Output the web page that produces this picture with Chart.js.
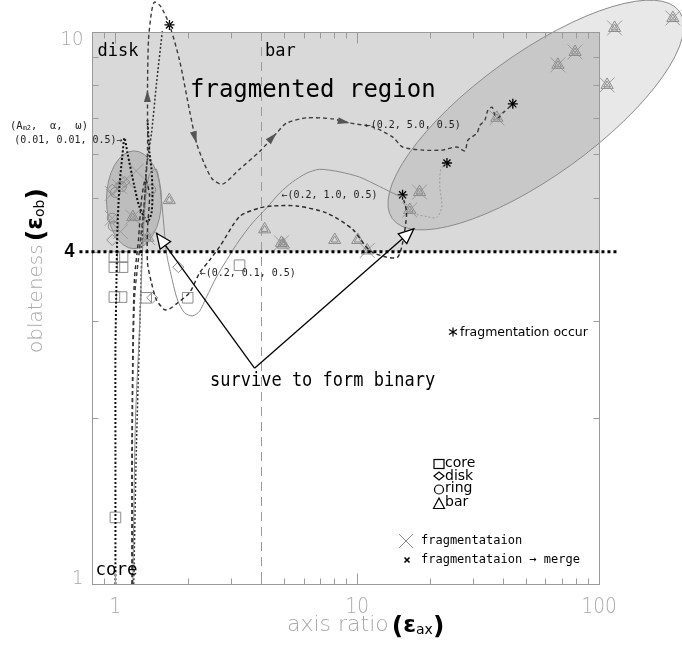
<!DOCTYPE html>
<html>
<head>
<meta charset="utf-8">
<script src="https://cdn.jsdelivr.net/npm/chart.js@4"></script>
<style>
  html, body { margin: 0; padding: 0; background: #fff; }
  canvas { display: block; }
</style>
</head>
<body>
<canvas id="chart" width="682" height="655"></canvas>
<script>
// axes: the framed box, and the whole canvas seen through the scales
const xRange = [0.8, 100];
const yRange = [1, 10];
const xView = [0.3331, 220.4];
const yView = [0.7437, 11.428];
const xTickLabels = [1, 10, 100];
const yTickLabels = [1, 10];
const xMinorTicks = [0.9, 2, 3, 4, 5, 6, 7, 8, 9, 20, 30, 40, 50, 60, 70, 80, 90];
const yMinorTicks = [2, 3, 4, 5, 6, 7, 8, 9];

const fragLevel = 4;          // oblateness limit of the fragmented region
const barLimit = 4;           // axis ratio between disk and bar
const fragLineSpan = [0.71, 119];

// evolution tracks, [axis ratio, oblateness]
const track5p0 = [[1.176, 1.0], [1.176, 1.98], [1.198, 3.27], [1.257, 4.03], [1.318, 4.96], [1.357, 6.11],
  [1.357, 7.85], [1.370, 9.67], [1.410, 10.87], [1.450, 11.33], [1.536, 11.14], [1.673, 10.30], [1.841, 8.89],
  [2.025, 7.21], [2.165, 6.29], [2.336, 5.76], [2.521, 5.41], [2.773, 5.30], [3.26, 5.64], [3.94, 6.07],
  [4.64, 6.56], [5.11, 6.84], [6.18, 6.99], [7.92, 6.96], [9.31, 6.84], [11.59, 6.73], [14.03, 6.45],
  [15.41, 6.19], [18.67, 6.11], [22.38, 6.11], [25.8, 6.19], [27.9, 6.09], [28.7, 6.37], [31.3, 6.56],
  [32.1, 6.77], [33.7, 6.92], [34.7, 7.21], [36.1, 7.31], [37.1, 7.07], [38.2, 6.99], [40.0, 7.13], [44.0, 7.41]];
const track5p0Arrows = [6, 14, 20, 24];

const track1p0 = [[1.18, 1.0], [1.21, 1.98], [1.257, 2.88], [1.294, 4.03], [1.331, 4.96], [1.383, 5.52],
  [1.479, 5.64], [1.550, 4.96], [1.626, 3.98], [1.706, 3.60], [1.806, 3.27], [1.931, 3.10], [2.084, 3.06],
  [2.228, 3.12], [2.380, 3.31], [2.619, 3.60], [2.881, 3.86], [3.26, 4.20], [3.69, 4.51], [4.22, 4.80],
  [4.78, 5.11], [5.40, 5.35], [6.18, 5.55], [6.99, 5.64], [8.46, 5.58], [10.23, 5.46], [12.36, 5.25],
  [14.57, 5.07], [15.41, 5.04]];
const track1p0Tail = [[15.41, 5.04], [16.01, 4.86], [16.97, 4.70], [19.4, 4.63], [21.3, 4.61], [22.38, 4.82],
  [21.95, 5.25], [22.17, 5.64], [23.46, 5.79]];

const track0p1 = [[1.17, 1.0], [1.17, 1.75], [1.18, 2.65], [1.198, 3.56], [1.245, 4.20], [1.281, 4.96],
  [1.331, 5.41], [1.383, 5.07], [1.357, 4.39], [1.357, 3.82], [1.410, 3.51], [1.479, 3.27], [1.596, 3.14],
  [1.673, 3.15], [1.806, 3.23], [2.025, 3.37], [2.228, 3.66], [2.450, 3.86], [2.695, 4.08], [3.26, 4.63],
  [3.94, 4.80], [4.47, 4.84], [5.62, 4.84], [7.48, 4.70], [9.58, 4.39], [11.25, 4.02], [13.22, 3.91],
  [14.70, 3.91], [15.41, 4.15], [16.01, 4.70], [15.58, 4.96]];

const track0p01 = [[1.0, 1.0], [1.0, 1.75], [1.0, 2.65], [1.01, 3.56], [1.019, 4.39], [1.039, 5.25],
  [1.069, 5.99], [1.090, 6.43], [1.121, 6.04], [1.198, 5.25], [1.257, 4.82], [1.357, 4.53], [1.410, 4.70],
  [1.423, 5.11], [1.410, 5.64], [1.383, 6.04], [1.357, 6.92]];

const trackOther = [[1.19, 1.0], [1.22, 1.75], [1.27, 3.27], [1.294, 4.32], [1.318, 4.82], [1.344, 5.69],
  [1.410, 6.56], [1.479, 8.08], [1.565, 10.08]];

// states
const coreStates = [[1.0, 1.32], [0.99, 3.91], [1.07, 3.91], [0.99, 3.75], [1.07, 3.75], [0.99, 3.31],
  [1.06, 3.31], [1.34, 3.30], [1.99, 3.30], [3.26, 3.78]];
const diskStates = [[1.42, 3.30], [1.82, 3.75], [0.97, 4.20], [0.97, 5.18], [1.04, 5.27], [1.09, 5.35]];
const ringStates = [[1.40, 5.18], [0.97, 4.60], [1.0, 5.12], [1.06, 5.25], [0.98, 4.45]];
const barStates = [[1.67, 4.96], [1.18, 4.62], [1.36, 4.24], [4.14, 4.39], [4.86, 4.15], [4.95, 4.12],
  [8.07, 4.20], [10.05, 4.20], [11.0, 4.02], [16.5, 4.76], [18.1, 5.13], [37.8, 6.99], [67.6, 8.72],
  [79.6, 9.20], [116, 10.17], [108, 8.02], [202, 10.6]];
const fragStates = [[0.97, 5.10], [1.04, 5.25], [1.10, 5.40], [0.97, 4.60], [1.18, 4.62], [1.36, 4.24],
  [1.22, 5.60], [1.05, 4.35], [4.86, 4.15], [11.0, 4.02], [16.5, 4.76], [18.1, 5.13], [37.8, 6.99],
  [67.6, 8.72], [79.6, 9.20], [116, 10.17], [108, 8.02], [202, 10.6]];
const fragEvents = [[1.673, 10.3], [15.4, 5.07], [23.5, 5.79], [44.0, 7.41]];

// cluster outlines and notes
const leftCluster = { x: [0.918, 1.55], y: [4.05, 6.09] };
const rightCluster = { from: [13.97, 4.59], to: [215, 10.9], ratio: 0.345 };
const surviveFrom = [3.76, 2.46];
const surviveTo = [[1.479, 4.32], [17.14, 4.40]];
const trackNotes = [
  { text: '\u2190(0.2, 5.0, 0.5)', at: [10.74, 6.77], align: 'left' },
  { text: '\u2190(0.2, 1.0, 0.5)', at: [4.86, 5.07], align: 'left' },
  { text: '\u2190(0.2, 0.1, 0.5)', at: [2.23, 3.66], align: 'left' },
  { text: '(0.01, 0.01, 0.5)\u2192', at: [1.069, 6.37], align: 'right' }
];

const toPoints = list => list.map(p => ({ x: p[0], y: p[1] }));

function trackSet(list, color, dash, width) {
  return {
    data: toPoints(list), showLine: true, borderColor: color, borderWidth: width,
    borderDash: dash, borderCapStyle: 'butt', pointRadius: 0, pointHoverRadius: 0,
    tension: 0.25, fill: false, clip: false
  };
}

function markSet(list, style, radius, color, width) {
  return {
    data: toPoints(list), showLine: false, pointStyle: style, pointRadius: radius,
    pointHoverRadius: radius, borderColor: color, pointBorderColor: color,
    backgroundColor: 'rgba(0,0,0,0)', pointBackgroundColor: 'rgba(0,0,0,0)',
    pointBorderWidth: width || 1, borderWidth: width || 1, clip: false
  };
}

function text(ctx, str, x, y, font, color, align, sx, base) {
  ctx.save();
  ctx.font = font;
  ctx.fillStyle = color;
  ctx.textAlign = align || 'left';
  ctx.textBaseline = base || 'middle';
  ctx.translate(x, y);
  ctx.scale(sx || 1, 1);
  ctx.fillText(str, 0, 0);
  ctx.restore();
}

function arrowHead(ctx, tx, ty, ang, len, half, fill, stroke) {
  ctx.beginPath();
  ctx.moveTo(tx, ty);
  ctx.lineTo(tx - len * Math.cos(ang) + half * Math.sin(ang), ty - len * Math.sin(ang) - half * Math.cos(ang));
  ctx.lineTo(tx - len * Math.cos(ang) - half * Math.sin(ang), ty - len * Math.sin(ang) + half * Math.cos(ang));
  ctx.closePath();
  ctx.fillStyle = fill;
  ctx.fill();
  if (stroke) { ctx.strokeStyle = stroke; ctx.stroke(); }
}

const backdrop = {
  id: 'backdrop',
  beforeDatasetsDraw(chart) {
    const { ctx, scales: { x, y } } = chart;
    const X = v => x.getPixelForValue(v), Y = v => y.getPixelForValue(v);
    ctx.save();
    // fragmented region
    ctx.fillStyle = '#d9d9d9';
    ctx.fillRect(X(xRange[0]), Y(yRange[1]), X(xRange[1]) - X(xRange[0]), Y(fragLevel) - Y(yRange[1]));

    // disk / bar boundary
    ctx.strokeStyle = '#9a9a9a';
    ctx.lineWidth = 1;
    ctx.setLineDash([9, 6]);
    ctx.beginPath();
    ctx.moveTo(Math.round(X(barLimit)) + 0.5, Y(yRange[1]));
    ctx.lineTo(Math.round(X(barLimit)) + 0.5, Y(yRange[0]));
    ctx.stroke();
    ctx.setLineDash([]);

    // left cluster
    const lx0 = X(leftCluster.x[0]), lx1 = X(leftCluster.x[1]);
    const ly0 = Y(leftCluster.y[0]), ly1 = Y(leftCluster.y[1]);
    ctx.beginPath();
    ctx.ellipse((lx0 + lx1) / 2, (ly0 + ly1) / 2, (lx1 - lx0) / 2, (ly0 - ly1) / 2, 0, 0, Math.PI * 2);
    ctx.fillStyle = 'rgba(120,120,120,0.28)';
    ctx.fill();
    ctx.strokeStyle = '#8a8a8a';
    ctx.stroke();

    // right cluster
    const ax = X(rightCluster.from[0]), ay = Y(rightCluster.from[1]);
    const bx = X(rightCluster.to[0]), by = Y(rightCluster.to[1]);
    const a = Math.hypot(bx - ax, by - ay) / 2;
    ctx.beginPath();
    ctx.ellipse((ax + bx) / 2, (ay + by) / 2, a, a * rightCluster.ratio, Math.atan2(by - ay, bx - ax), 0, Math.PI * 2);
    ctx.fillStyle = 'rgba(112,112,112,0.16)';
    ctx.fill();
    ctx.strokeStyle = '#8a8a8a';
    ctx.stroke();
    ctx.restore();
  }
};

const overlay = {
  id: 'overlay',
  afterDatasetsDraw(chart) {
    const { ctx, scales: { x, y } } = chart;
    const X = v => x.getPixelForValue(v), Y = v => y.getPixelForValue(v);
    ctx.save();

    // frame and inward ticks
    const L = Math.round(X(xRange[0])) + 0.5, R = Math.round(X(xRange[1])) + 0.5;
    const T = Math.round(Y(yRange[1])) + 0.5, B = Math.round(Y(yRange[0])) + 0.5;
    ctx.strokeStyle = '#9a9a9a';
    ctx.lineWidth = 1;
    ctx.strokeRect(L, T, R - L, B - T);
    ctx.beginPath();
    xMinorTicks.forEach(v => {
      const p = Math.round(X(v)) + 0.5;
      ctx.moveTo(p, B); ctx.lineTo(p, B - 6);
      ctx.moveTo(p, T); ctx.lineTo(p, T + 6);
    });
    xTickLabels.forEach(v => {
      const p = Math.round(X(v)) + 0.5;
      ctx.moveTo(p, B); ctx.lineTo(p, B - 11);
      ctx.moveTo(p, T); ctx.lineTo(p, T + 11);
    });
    yMinorTicks.forEach(v => {
      const p = Math.round(Y(v)) + 0.5;
      ctx.moveTo(L, p); ctx.lineTo(L + 6, p);
      ctx.moveTo(R, p); ctx.lineTo(R - 6, p);
    });
    ctx.stroke();

    // tick labels
    const tickFont = '200 21px "DejaVu Sans"';
    xTickLabels.forEach(v => text(ctx, String(v), X(v), B + 23, tickFont, '#a8a8a8', 'center', 0.88));
    text(ctx, String(yTickLabels[1]), L - 9, Y(yTickLabels[1]) + 8, '200 19px "DejaVu Sans"', '#a8a8a8', 'right', 0.95);
    text(ctx, String(yTickLabels[0]), L - 9, Y(yTickLabels[0]) - 5, '200 19px "DejaVu Sans"', '#a8a8a8', 'right', 0.95);

    // oblateness limit
    ctx.strokeStyle = '#000';
    ctx.lineWidth = 3;
    ctx.setLineDash([3, 3]);
    ctx.beginPath();
    ctx.moveTo(X(fragLineSpan[0]), Y(fragLevel));
    ctx.lineTo(X(fragLineSpan[1]), Y(fragLevel));
    ctx.stroke();
    ctx.setLineDash([]);
    text(ctx, String(fragLevel), X(fragLineSpan[0]) - 10, Y(fragLevel), 'bold 20px "Liberation Sans"', '#000', 'center', 0.9);

    // region names
    const mono = '"DejaVu Sans Mono"';
    text(ctx, 'disk', L + 5, 56, '17px ' + mono, '#000', 'left', 1, 'alphabetic');
    text(ctx, 'bar', X(barLimit) + 4, 56, '17px ' + mono, '#000', 'left', 1, 'alphabetic');
    text(ctx, 'core', L + 3, 575, '17.5px ' + mono, '#000', 'left', 1, 'alphabetic');
    text(ctx, 'fragmented region', 190, 97, '24px ' + mono, '#000', 'left', 1, 'alphabetic');

    // arrows along the (0.2, 5.0, 0.5) track
    const pts = chart.getDatasetMeta(0).data;
    track5p0Arrows.forEach(i => {
      const p0 = pts[i - 1], p1 = pts[i + 1], p = pts[i];
      arrowHead(ctx, p.x, p.y, Math.atan2(p1.y - p0.y, p1.x - p0.x), 12, 3.5, '#555');
    });

    // track notes
    trackNotes.forEach(n => text(ctx, n.text, X(n.at[0]), Y(n.at[1]), '10.5px ' + mono, '#222', n.align, 0.95));
    // header of the notes
    ctx.save();
    ctx.fillStyle = '#222';
    ctx.textBaseline = 'middle';
    ctx.font = '10.5px ' + mono;
    let hx = 10;
    ctx.fillText('(A', hx, 126); hx += ctx.measureText('(A').width;
    ctx.font = '7px ' + mono;
    ctx.fillText('m2', hx, 128); hx += ctx.measureText('m2').width;
    ctx.font = '10.5px ' + mono;
    ctx.fillText(',  \u03b1,  \u03c9)', hx, 126);
    ctx.restore();

    // survive to form binary
    const vx = X(surviveFrom[0]), vy = Y(surviveFrom[1]);
    ctx.strokeStyle = '#000';
    ctx.lineWidth = 1.3;
    surviveTo.forEach(t => {
      const tx = X(t[0]), ty = Y(t[1]);
      ctx.beginPath();
      ctx.moveTo(vx, vy);
      ctx.lineTo(tx, ty);
      ctx.stroke();
      arrowHead(ctx, tx, ty, Math.atan2(ty - vy, tx - vx), 15, 6.5, '#fff', '#000');
    });
    text(ctx, 'survive to form binary', 210, 381, '20px ' + mono, '#000', 'left', 0.85);

    // axis titles
    ctx.save();
    ctx.textBaseline = 'alphabetic';
    ctx.fillStyle = '#a8a8a8';
    ctx.font = '200 22px "DejaVu Sans"';
    let tx = 287;
    ctx.fillText('axis ratio', tx, 631); tx += ctx.measureText('axis ratio').width + 3;
    ctx.fillStyle = '#000';
    ctx.font = 'bold 25px "DejaVu Sans"';
    ctx.fillText('(', tx, 634); tx += ctx.measureText('(').width;
    ctx.font = 'bold 23px "DejaVu Sans"';
    ctx.fillText('\u03b5', tx, 632); tx += ctx.measureText('\u03b5').width;
    ctx.font = '14px "DejaVu Sans"';
    ctx.fillText('ax', tx, 634); tx += ctx.measureText('ax').width;
    ctx.font = 'bold 25px "DejaVu Sans"';
    ctx.fillText(')', tx, 634);

    ctx.translate(42, 353);
    ctx.rotate(-Math.PI / 2);
    ctx.fillStyle = '#a8a8a8';
    ctx.font = '200 20px "DejaVu Sans"';
    let ty = 0;
    ctx.fillText('oblateness', ty, 0); ty += ctx.measureText('oblateness').width + 3;
    ctx.fillStyle = '#000';
    ctx.font = 'bold 25px "DejaVu Sans"';
    ctx.fillText('(', ty, 2); ty += ctx.measureText('(').width;
    ctx.font = 'bold 23px "DejaVu Sans"';
    ctx.fillText('\u03b5', ty, 0); ty += ctx.measureText('\u03b5').width;
    ctx.font = '14px "DejaVu Sans"';
    ctx.fillText('ob', ty, 2); ty += ctx.measureText('ob').width;
    ctx.font = 'bold 25px "DejaVu Sans"';
    ctx.fillText(')', ty, 2);
    ctx.restore();

    // legend
    ctx.strokeStyle = '#000';
    ctx.lineWidth = 1.2;
    const lx = 439;
    ctx.strokeRect(lx - 5, 459.5, 10, 9);
    ctx.beginPath();
    ctx.moveTo(lx, 472); ctx.lineTo(lx + 5, 476); ctx.lineTo(lx, 480); ctx.lineTo(lx - 5, 476); ctx.closePath();
    ctx.stroke();
    ctx.beginPath();
    ctx.arc(lx, 489.5, 4.5, 0, Math.PI * 2);
    ctx.stroke();
    ctx.beginPath();
    ctx.moveTo(lx, 498); ctx.lineTo(lx + 5.5, 508.5); ctx.lineTo(lx - 5.5, 508.5); ctx.closePath();
    ctx.stroke();
    const sans = '14px "DejaVu Sans"';
    text(ctx, 'core', 445, 467, sans, '#000', 'left', 1, 'alphabetic');
    text(ctx, 'disk', 445, 480, sans, '#000', 'left', 1, 'alphabetic');
    text(ctx, 'ring', 445, 492, sans, '#000', 'left', 1, 'alphabetic');
    text(ctx, 'bar', 445, 506, sans, '#000', 'left', 1, 'alphabetic');

    ctx.strokeStyle = '#888';
    ctx.lineWidth = 1;
    ctx.beginPath();
    ctx.moveTo(399, 534); ctx.lineTo(413, 548);
    ctx.moveTo(413, 534); ctx.lineTo(399, 548);
    ctx.stroke();
    text(ctx, 'fragmentataion', 421, 541, '12px ' + mono, '#000', 'left', 1);
    ctx.strokeStyle = '#000';
    ctx.lineWidth = 1.6;
    ctx.beginPath();
    ctx.moveTo(404.5, 557.5); ctx.lineTo(409.5, 562.5);
    ctx.moveTo(409.5, 557.5); ctx.lineTo(404.5, 562.5);
    ctx.stroke();
    text(ctx, 'fragmentataion \u2192 merge', 421, 560, '12px ' + mono, '#000', 'left', 1);

    // fragmentation marker note
    ctx.lineWidth = 1.2;
    ctx.beginPath();
    ctx.moveTo(453, 327.5); ctx.lineTo(453, 336.5);
    ctx.moveTo(449, 329.5); ctx.lineTo(457, 334.5);
    ctx.moveTo(457, 329.5); ctx.lineTo(449, 334.5);
    ctx.stroke();
    text(ctx, 'fragmentation occur', 460, 333, '12.5px "DejaVu Sans"', '#000', 'left', 1);

    ctx.restore();
  }
};

new Chart(document.getElementById('chart'), {
  type: 'scatter',
  data: {
    datasets: [
      trackSet(track5p0, '#3c3c3c', [4, 3], 1.4),
      trackSet(track0p1, '#2a2a2a', [4, 3], 1.4),
      trackSet(track1p0, '#8a8a8a', [], 1),
      trackSet(track1p0Tail, '#9a9a9a', [2, 2], 1),
      trackSet(track0p01, '#111', [2, 2], 2),
      trackSet(trackOther, '#333', [2, 2], 1.5),
      markSet(coreStates, 'rect', 7.5, '#8c8c8c'),
      markSet(diskStates, 'rectRot', 5.5, '#8c8c8c'),
      markSet(ringStates, 'circle', 5, '#8c8c8c'),
      markSet(barStates, 'triangle', 7, '#8c8c8c'),
      markSet(barStates, 'triangle', 4, '#8c8c8c'),
      markSet(fragStates, 'crossRot', 10.5, '#9c9c9c'),
      markSet(fragEvents, 'star', 5, '#000', 1.3)
    ]
  },
  options: {
    responsive: false,
    animation: false,
    devicePixelRatio: 1,
    layout: { padding: 0, autoPadding: false },
    plugins: { legend: { display: false }, tooltip: { enabled: false } },
    scales: {
      x: { type: 'logarithmic', bounds: 'data', min: xView[0], max: xView[1], display: false },
      y: { type: 'logarithmic', bounds: 'data', min: yView[0], max: yView[1], display: false }
    }
  },
  plugins: [backdrop, overlay]
});
</script>
</body>
</html>
